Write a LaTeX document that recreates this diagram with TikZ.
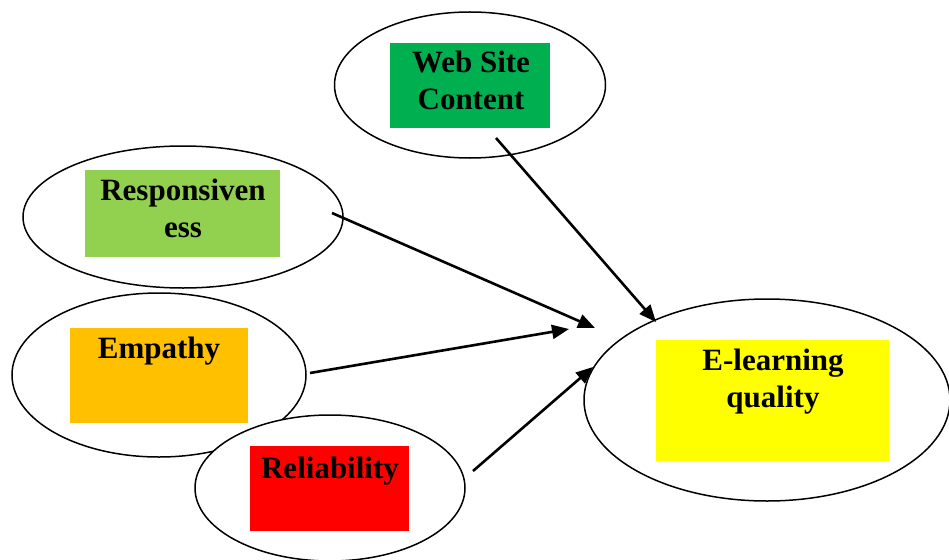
\documentclass[tikz,border=0pt]{standalone}
\usepackage{fontspec}
\setmainfont{Liberation Serif}
\usetikzlibrary{shapes.geometric,arrows.meta}

\definecolor{webgreen}{HTML}{00B050}
\definecolor{lightgreen}{HTML}{92D050}
\definecolor{amber}{HTML}{FFC000}
\definecolor{brightred}{HTML}{FF0000}
\definecolor{brightyellow}{HTML}{FFFF00}

\begin{document}
\begin{tikzpicture}[x=1pt,y=-1pt,
  bubble/.style={ellipse, draw=black, line width=1.5pt, fill=white, inner sep=0pt},
  tag/.style={rectangle, draw=none, inner sep=0pt},
  caption/.style={font=\fontsize{31}{37}\selectfont\bfseries, anchor=base, inner sep=0pt},
  link/.style={line width=2.6pt, -{Triangle[length=17pt,width=14pt]}}
]
\useasboundingbox (0,0) rectangle (949,559);

% construct ellipses (Reliability drawn over Empathy)
\node[bubble, minimum width=320pt, minimum height=142pt] (resp) at (183,217) {};
\node[bubble, minimum width=294pt, minimum height=164pt] (emp)  at (159,375) {};
\node[bubble, minimum width=270pt, minimum height=146pt] (rel)  at (330,488) {};
\node[bubble, minimum width=271pt, minimum height=146pt] (web)  at (470,85) {};
\node[bubble, minimum width=366pt, minimum height=202pt] (qual) at (767,400) {};

% coloured label boxes
\node[tag, fill=webgreen,     minimum width=160pt, minimum height=85pt]  (webbox)  at (470,85.5) {};
\node[tag, fill=lightgreen,   minimum width=195pt, minimum height=87pt]  (respbox) at (182.5,213.5) {};
\node[tag, fill=amber,        minimum width=178pt, minimum height=95pt]  (empbox)  at (159,375.5) {};
\node[tag, fill=brightred,    minimum width=159pt, minimum height=85pt]  (relbox)  at (329.5,488.5) {};
\node[tag, fill=brightyellow, minimum width=233pt, minimum height=121pt] (qualbox) at (772.5,400.5) {};

% labels
\node[caption] (webA)  at (471,73)  {Web Site};
\node[caption] (webB)  at (471,110) {Content};
\node[caption] (respA) at (183,200) {Responsiven};
\node[caption] (respB) at (183,237) {ess};
\node[caption] (empA)  at (159,358) {Empathy};
\node[caption] (relA)  at (330,478) {Reliability};
\node[caption] (qualA) at (773,370) {E-learning};
\node[caption] (qualB) at (773,407) {quality};

% arrow end points
\coordinate (w1) at (496,138);
\coordinate (w2) at (656,322);
\coordinate (r1) at (332,213);
\coordinate (r2) at (595,328);
\coordinate (e1) at (310,373);
\coordinate (e2) at (569,329);
\coordinate (l1) at (473,471);
\coordinate (l2) at (593,367);

% paths towards E-learning quality
\draw[link] (w1) -- (w2);
\draw[link] (r1) -- (r2);
\draw[link] (e1) -- (e2);
\draw[link] (l1) -- (l2);
\end{tikzpicture}
\end{document}
